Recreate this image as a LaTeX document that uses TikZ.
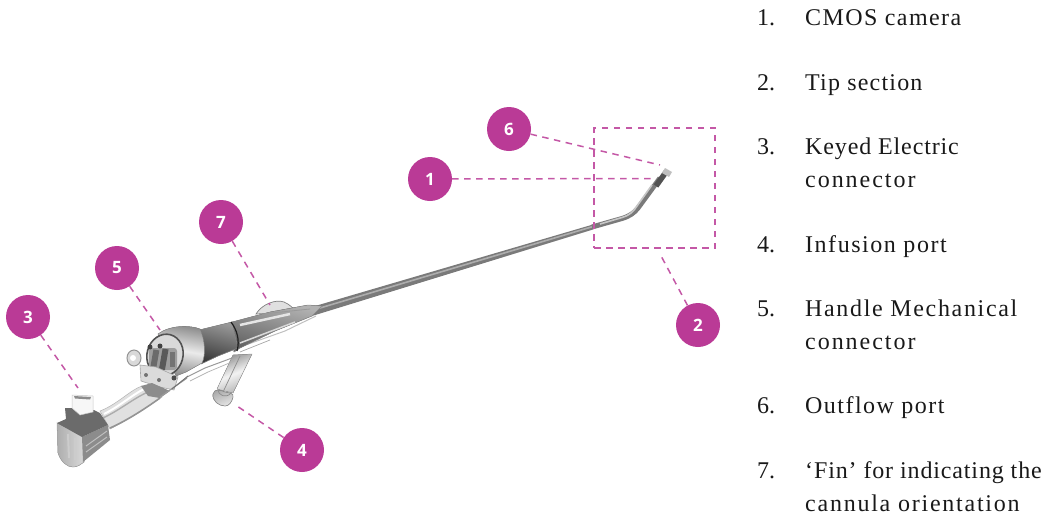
\documentclass[tikz,border=0pt]{standalone}
\usepackage{fontspec}
\setmainfont{Liberation Serif}
\newfontfamily\numfont{Open Sans Bold}
\usetikzlibrary{calc}
\definecolor{mag}{HTML}{BA3A96}
\newcommand{\spc}[2]{{\addfontfeature{LetterSpace=#1}#2}}
\tikzset{
  badge/.style={circle,fill=mag,minimum size=44pt,inner sep=0pt,text=white,font=\numfont\fontsize{17}{17}\selectfont},
  lead/.style={draw=mag!85,line width=1.5pt,dash pattern=on 6.5pt off 5.5pt},
  item/.style={anchor=base west,inner sep=0pt,font=\fontsize{24}{26}\selectfont,text=black!90},
  metal/.style={draw=black!45,line width=.5pt},
}
\begin{document}
\begin{tikzpicture}[x=1pt,y=-1pt]
\useasboundingbox (0,0) rectangle (1047,517);
% tube to connector
\fill[black!12,draw=black!30,line width=.5pt]
  (100,411) .. controls (118,404) and (130,390) .. (142,386) -- (162,397) .. controls (146,408) and (128,420) .. (110,429) -- cycle;
\draw[black!32,line width=1.4pt] (103,418) .. controls (120,410) and (134,398) .. (148,392);
\draw[black!42,line width=1.6pt] (110,428) .. controls (128,420) and (146,408) .. (160,398);
\draw[white,line width=2pt] (104,414) .. controls (120,406) and (132,395) .. (144,389);
% keyed connector
\fill[left color=black!32,right color=black!15,draw=black!35,line width=.5pt] (57,423) -- (58,453) .. controls (61,462) and (67,467) .. (73,467) .. controls (78,467) and (81,464) .. (84,462) -- (84,436) -- cycle;
\draw[black!20,line width=2pt] (68,434) -- (69,458) (75,438) -- (75,460);
\fill[black!45] (82,437) -- (108,425) -- (110,440) -- (83,462) -- cycle;
\draw[black!25,line width=1pt] (86,446) -- (107,431) (86,452) -- (107,437);
\fill[black!58] (65,408) -- (72,408) -- (78,412) -- (94,410) -- (100,413) -- (108,425) -- (82,437) -- (57,423) -- (66,419) -- cycle;
\fill[black!3,draw=black!22,line width=.5pt] (72,395) -- (93,396) -- (93,412) -- (80,415) -- (72,408) -- cycle;
\fill[black!45] (74,396) -- (91,397) -- (90,399.5) -- (75,398.5) -- cycle;
% port
\fill[left color=black!42,right color=black!30,middle color=black!5,shading angle=22,draw=black!40,line width=.4pt]
  (233,355) -- (252,354) -- (233,393) -- (217,389) -- cycle;
\draw[black!45,line width=.7pt] (240,356) -- (224,390);
\fill[left color=black!35,right color=black!10,shading angle=22,draw=black!45,line width=.6pt] (213,394) .. controls (215,388) and (220,390) .. (225,392) .. controls (229,393) and (234,393) .. (233,397) .. controls (232,402) and (229,406) .. (225,406) .. controls (219,406) and (212,401) .. (213,394) -- cycle;
\draw[black!45,line width=.7pt] (218,390) .. controls (218,395) and (226,399) .. (231,393);
% lower thin lines
\draw[black!40,line width=1pt] (187,377) -- (205,368) -- (232,358);
\draw[black!30,line width=.7pt] (190,381) -- (208,372) -- (234,361);
\draw[black!25,line width=1pt] (240,347) -- (285,331) -- (316,316);
\draw[black!35,line width=.7pt] (240,352) -- (270,340);
% shaft
\fill[black!52] (310,307.5) -- (593,224.5) -- (593,229.5) -- (312,316) -- cycle;
\draw[black!32,line width=1.6pt] (315,309.5) -- (593,226.5);
\draw[black!52,line width=5pt] (592,227) -- (622,218.5) .. controls (630,216) and (634,213) .. (638,208) -- (660,178);
\draw[black!22,line width=1.6pt] (600,224) -- (622,217.5) .. controls (630,215) and (633,212) .. (637,206) -- (652,185);
\draw[black!68,line width=5.5pt] (656,186) -- (666,172);
\fill[black!25] (665,168) -- (672,172) -- (669,177) -- (662,173) -- cycle;
% fin
\fill[black!12,draw=black!50,line width=.7pt] (256,314) .. controls (262,304) and (276,299) .. (284,302) .. controls (289,304) and (293,308) .. (297,312) -- cycle;
% handle body
\fill[metal,top color=black!30,bottom color=black!62,shading angle=-15]
  (232,322) -- (270,312) -- (308,305) -- (322,306) -- (312,316) -- (275,331) -- (240,348) -- (234,352) -- cycle;
\draw[black!10,line width=2.5pt] (240,325) -- (290,314);
\draw[black!15,line width=1.5pt] (240,343) -- (295,322);
\draw[black!40,line width=.8pt] (262,314) -- (310,309);
\fill[metal,top color=black!40,bottom color=black!78,shading angle=-15]
  (199,330) -- (232,322) -- (238,348) -- (218,356) -- (201,364) -- cycle;
\draw[black!88,line width=1.2pt] (231,322) .. controls (237,330) and (240,340) .. (237,351);
\fill[metal,top color=black!45,bottom color=black!45,middle color=black!8,shading angle=-10]
  (158,334) .. controls (170,325) and (190,325) .. (200,329) .. controls (205,340) and (206,355) .. (202,363) -- (186,372) -- (176,376) -- cycle;
% head disc
\fill[black!15,draw=black!68,line width=1.6pt,rotate around={-15:(165,355)}] (165,355) ellipse (18pt and 21pt);
\fill[black!38,rounded corners=3pt] (149,348) rectangle (177,370);
\fill[black!58,rotate around={-10:(156,358)}] (152,350) rectangle (158,369);
\fill[black!65,rotate around={-10:(165,358)}] (161,349) rectangle (167,370);
\fill[black!55] (170,352) rectangle (175,367);
\fill[black!75] (150,347) circle (2.5pt) (160,346) circle (2.5pt);
% small ring
\fill[black!15,draw=black!42,line width=1pt] (134,358) ellipse (7pt and 8pt);
\fill[white] (133,358) circle (3pt);
% plate
\fill[black!14,draw=black!35,line width=.6pt] (140,365) -- (156,367) -- (178,377) -- (174,390) -- (160,387) -- (141,381) -- cycle;
\fill[black!55] (146,375) circle (2pt) (159,380) circle (2pt);
\fill[black!70] (174,378) circle (2.5pt);
\fill[black!45] (141,386) -- (152,383) -- (170,391) -- (160,398) -- (148,396) -- cycle;
\draw[black!40,line width=1.2pt] (160,397) -- (187,378);
\draw[black!55,line width=1pt] (172,389) -- (188,376);

% badges
\node[badge] (n1) at (430,179) {1};
\node[badge] (n2) at (698,325) {2};
\node[badge] (n3) at (28,317) {3};
\node[badge] (n4) at (302,450) {4};
\node[badge] (n5) at (117,268) {5};
\node[badge] (n6) at (509,129) {6};
\node[badge] (n7) at (221,222) {7};
% free ends
\coordinate (e1) at (654,178.5);
\coordinate (e2) at (660,254);
\coordinate (e3) at (78,388);
\coordinate (e4) at (237,406);
\coordinate (e5) at (160,330);
\coordinate (e6) at (660,165);
\coordinate (e7) at (270,305);
\foreach \a/\b in {n1/e1,n2/e2,n3/e3,n4/e4,n5/e5,n6/e6,n7/e7} \draw[lead] (\a) -- (\b);
% tip section box
\node[draw=mag!85,line width=1.5pt,dash pattern=on 6.5pt off 5.5pt,minimum width=121pt,minimum height=120pt,inner sep=0pt] (box) at (654.5,188) {};
% legend
\node[item] (l1) at (757,25) {1.};  \node[item] (t1) at (805,25) {\spc{5.9}{CMOS camera}};
\node[item] (l2) at (757,90) {2.};  \node[item] (t2) at (805,90) {\spc{5}{Tip section}};
\node[item] (l3) at (757,154) {3.}; \node[item] (t3) at (805,154) {\spc{3.6}{Keyed Electric}};
\node[item] (t3b) at (805,187) {\spc{8.2}{connector}};
\node[item] (l4) at (757,252) {4.}; \node[item] (t4) at (805,252) {\spc{6.4}{Infusion port}};
\node[item] (l5) at (757,316) {5.}; \node[item] (t5) at (805,316) {\spc{6.9}{Handle Mechanical}};
\node[item] (t5b) at (805,349) {\spc{8.2}{connector}};
\node[item] (l6) at (757,413) {6.}; \node[item] (t6) at (805,413) {\spc{6.1}{Outflow port}};
\node[item] (l7) at (757,478) {7.}; \node[item] (t7) at (805,478) {\spc{3.6}{‘Fin’ for indicating the}};
\node[item] (t7b) at (805,511) {\spc{7.3}{cannula orientation}};
\end{tikzpicture}
\end{document}
